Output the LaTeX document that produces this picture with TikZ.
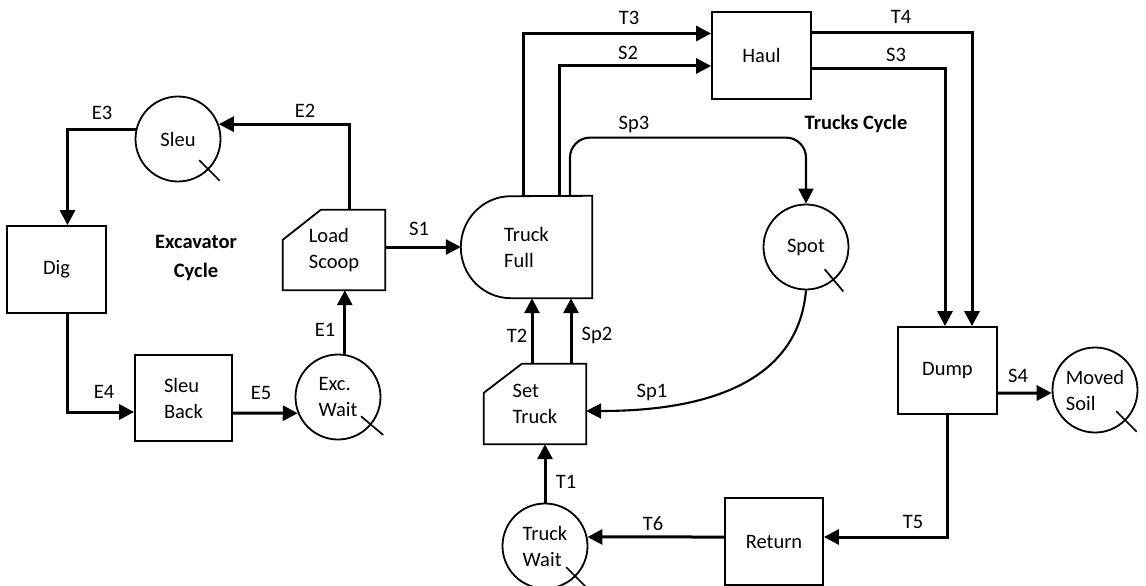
\documentclass[tikz,border=0pt]{standalone}
\usepackage{fontspec}
\setmainfont{Carlito}
\usetikzlibrary{arrows.meta}
\tikzset{
  actbox/.style   = {draw, line width=1.8pt, minimum width=99pt,
                     minimum height=87pt, align=left},
  combibox/.style = {minimum width=102pt, minimum height=80pt, align=left},
  fullbox/.style  = {minimum width=131pt, minimum height=102pt, align=left},
  queue/.style    = {draw, circle, line width=1.8pt, minimum size=85pt,
                     inner sep=0pt, align=left},
  outline/.style  = {line width=1.8pt},
  tick/.style     = {line width=1.7pt},
  flow/.style     = {-{Triangle[length=15pt,width=15pt]}, line width=3pt},
  spotflow/.style = {-{Triangle[length=15pt,width=15pt]}, line width=2.1pt},
  lbl/.style      = {inner sep=0pt, text depth=0pt},
  cyc/.style      = {inner sep=0pt, font=\fontsize{20.5}{29}\selectfont\bfseries,
                     align=center},
}

\begin{document}
\begin{tikzpicture}[x=1pt, y=-1pt, font=\fontsize{20.5}{26}\selectfont]
    \useasboundingbox (0,0) rectangle (1146,586);
    % --- excavator cycle ----------------------------------------------
    \node[queue]    (sleu)  at (178,139)     {Sleu};
    \node[actbox]   (dig)   at (56.5,269.5)  {Dig};
    \node[actbox, minimum width=97pt, minimum height=86pt] (sback) at (183.5,398) {Sleu\\Back};
    \node[queue]    (ewait) at (338,397)     {Exc.\\Wait};
    \node[combibox] (scoop) at (334,250)     {Load\\Scoop};
    \node[cyc]      (exccyc) at (196,258)    {Excavator\\Cycle};
    % --- truck cycle --------------------------------------------------
    \node[fullbox]  (tfull) at (526.5,247)   {Truck\\Full};
    \node[combibox] (strk)  at (535,404)     {Set\\Truck};
    \node[queue]    (twait) at (545,546)     {Truck\\Wait};
    \node[actbox]   (haul)  at (761.5,55.5)  {Haul};
    \node[queue]    (spot)  at (806,247)     {Spot};
    \node[actbox]   (dump)  at (947.5,370.5) {Dump};
    \node[queue]    (msoil) at (1095,390)    {Moved\\Soil};
    \node[actbox, minimum width=98pt] (ret) at (774,541.5) {Return};
    \node[cyc]      (trkcyc) at (856,124)    {Trucks Cycle};
    % --- special outlines ---------------------------------------------
    \draw[outline] ([xshift=38pt]scoop.north west) -- (scoop.north east)
        -- (scoop.south east) -- (scoop.south west)
        -- ([yshift=-30pt]scoop.north west) -- cycle;
    \draw[outline] ([xshift=38pt]strk.north west) -- (strk.north east)
        -- (strk.south east) -- (strk.south west)
        -- ([yshift=-29pt]strk.north west) -- cycle;
    \draw[outline] (tfull.north east) -- (tfull.south east)
        -- ([xshift=50pt]tfull.south west)
        arc[start angle=270, end angle=90, x radius=50pt, y radius=51pt] -- cycle;
    % --- ticks --------------------------------------------------------
    \draw[tick] (sleu.center)  ++(-45:30pt) -- ++(-45:29pt);
    \draw[tick] (ewait.center) ++(-40:30pt) -- ++(-40:29pt);
    \draw[tick] (spot.center)  ++(-50:29pt) -- ++(-50:29pt);
    \draw[tick] (msoil.center) ++(-45:30pt) -- ++(-45:29pt);
    \draw[tick] (twait.center) ++(-45:30pt) -- ++(-45:29pt);
    % --- excavator edges ----------------------------------------------
    \draw[flow] ([xshift=15pt]scoop.north) |- (sleu.20);
    \draw[flow] (sleu.168) -| ([xshift=11pt]dig.north);
    \draw[flow] ([xshift=11pt]dig.south) |- ([yshift=-14pt]sback.west);
    \draw[flow] ([yshift=-15pt]sback.east) -- (ewait.202);
    \draw[flow] (ewait.81) -- (ewait.81 |- scoop.south);
    \draw[flow] (scoop.east |- tfull.west) -- (tfull.west);
    % --- truck edges --------------------------------------------------
    \draw[flow] ([xshift=-3.5pt]tfull.north) |- ([yshift=22pt]haul.west);
    \draw[flow] ([xshift=32.5pt]tfull.north) |- ([yshift=-10.5pt]haul.west);
    \draw[spotflow, rounded corners=20pt] ([xshift=43.5pt]tfull.north)
        |- ([yshift=66pt]spot.north) -- (spot.north);
    \draw[flow] ([yshift=22.5pt]haul.east) -| ([xshift=24.5pt]dump.north);
    \draw[flow] ([yshift=-13.5pt]haul.east) -| ([xshift=-2.5pt]dump.north);
    \draw[flow] ([yshift=-22.5pt]dump.east) -- (msoil.184);
    \draw[flow] (dump.south) |- ([yshift=4.5pt]ret.east);
    \draw[flow] ([yshift=4.5pt]ret.west) -- (twait.12);
    \draw[flow] (twait.north) -- (twait.north |- strk.south);
    \draw[flow] ([xshift=-3pt]strk.north) -- ([xshift=-3pt]strk.north |- tfull.south);
    \draw[flow] ([xshift=36pt]strk.north) -- ([xshift=36pt]strk.north |- tfull.south);
    \draw[spotflow] (spot.south) to[out=-95, in=0, out looseness=1.1, in looseness=0.9]
        ([yshift=-7pt]strk.east);
    % --- labels -------------------------------------------------------
    \node[lbl] (le3)  at (102,113) {E3};
    \node[lbl] (le2)  at (305,111) {E2};
    \node[lbl] (le4)  at (104,392) {E4};
    \node[lbl] (le5)  at (261,393) {E5};
    \node[lbl] (le1)  at (325,330) {E1};
    \node[lbl] (ls1)  at (419,229) {S1};
    \node[lbl] (lt3)  at (629,18)  {T3};
    \node[lbl] (ls2)  at (628,53)  {S2};
    \node[lbl] (lsp3) at (634,123) {Sp3};
    \node[lbl] (lt4)  at (901,17)  {T4};
    \node[lbl] (ls3)  at (896,55)  {S3};
    \node[lbl] (lt2)  at (517,336) {T2};
    \node[lbl] (lsp2) at (597,334) {Sp2};
    \node[lbl] (lsp1) at (652,391) {Sp1};
    \node[lbl] (lt1)  at (566,482) {T1};
    \node[lbl] (lt6)  at (653,524) {T6};
    \node[lbl] (lt5)  at (913,522) {T5};
    \node[lbl] (ls4)  at (1018,376) {S4};
\end{tikzpicture}
\end{document}
